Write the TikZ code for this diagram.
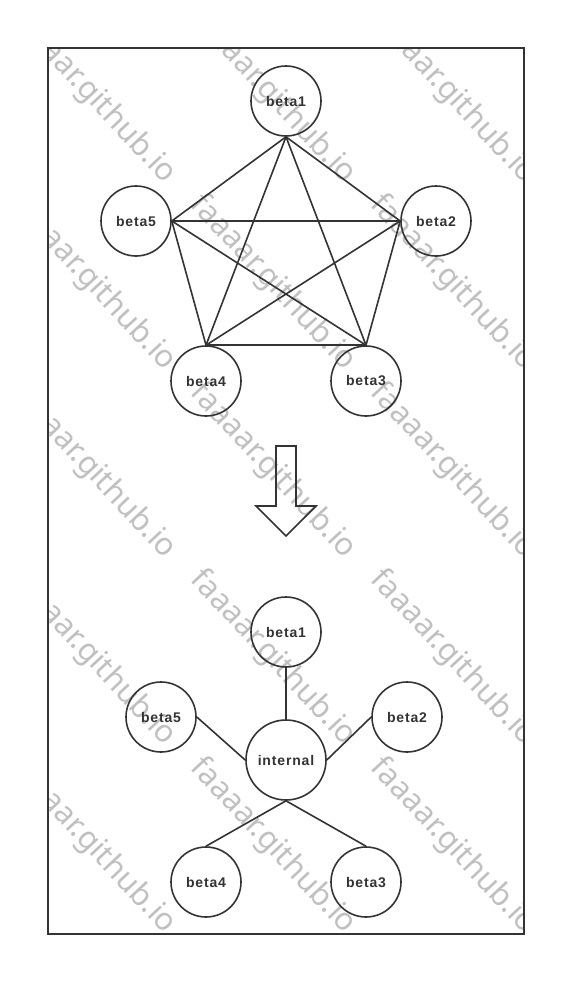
\documentclass[tikz,border=0pt]{standalone}
\usepackage{fontspec}
\setmainfont{Noto Sans}
\newfontfamily\nodefont[LetterSpace=6]{Liberation Sans}
\usepackage{tikz}
\usetikzlibrary{positioning}
\definecolor{linea}{RGB}{51,51,51}
\definecolor{filigrana}{RGB}{192,192,192}

\begin{document}
\begin{tikzpicture}[x = 1pt, y = -1pt,
    nodo/.style = {draw = linea, circle, line width = 1.6pt, minimum size = 70pt, inner sep = 0pt,
        font = \nodefont\bfseries\fontsize{14}{16}\selectfont, text = linea},
    arco/.style = {draw = linea, line width = 1.6pt}]
    % Pagina
    \useasboundingbox (0,0) rectangle (586,996);
    % Filigrana
    \begin{scope}
        \clip (48,48) rectangle (524,934);
        \foreach \col/\xc in {1/93, 2/273, 3/453}
            \foreach \riga/\yc in {1/96, 2/283, 3/471, 4/658, 5/846}
                \node[rotate = -47, text = filigrana, font = \fontsize{31}{32}\selectfont]
                    (wm\col\riga) at (\xc,\yc) {faaaar.github.io};
    \end{scope}
    % Cornice
    \draw[linea, line width = 1.6pt] (48,48) rectangle (524,934);
    % Grafo completo
    \node[nodo] (a1) at (286,101) {beta1};
    \node[nodo] (a2) at (436,221) {beta2};
    \node[nodo] (a3) at (366,381) {beta3};
    \node[nodo] (a4) at (206,381) {beta4};
    \node[nodo] (a5) at (136,221) {beta5};
    \draw[arco] (a1.south) -- (a5.east);
    \draw[arco] (a1.south) -- (a2.west);
    \draw[arco] (a1.south) -- (a4.north);
    \draw[arco] (a1.south) -- (a3.north);
    \draw[arco] (a5.east) -- (a2.west);
    \draw[arco] (a5.east) -- (a4.north);
    \draw[arco] (a5.east) -- (a3.north);
    \draw[arco] (a2.west) -- (a4.north);
    \draw[arco] (a2.west) -- (a3.north);
    \draw[arco] (a4.north) -- (a3.north);
    % Freccia
    \draw[arco, line join = miter] (276,446) -- (296,446) -- (296,506) -- (316,506) -- (286,536)
        -- (256,506) -- (276,506) -- cycle;
    % Grafo a stella
    \node[nodo, minimum size = 80pt] (c) at (286,760) {internal};
    \node[nodo] (b1) at (286,632) {beta1};
    \node[nodo] (b2) at (407,717) {beta2};
    \node[nodo] (b3) at (366,882) {beta3};
    \node[nodo] (b4) at (206,882) {beta4};
    \node[nodo] (b5) at (161,717) {beta5};
    \draw[arco] (b1.south) -- (c.north);
    \draw[arco] (b5.east) -- (c.west);
    \draw[arco] (b2.west) -- (c.east);
    \draw[arco] (c.south) -- (b4.north);
    \draw[arco] (c.south) -- (b3.north);
\end{tikzpicture}
\end{document}
